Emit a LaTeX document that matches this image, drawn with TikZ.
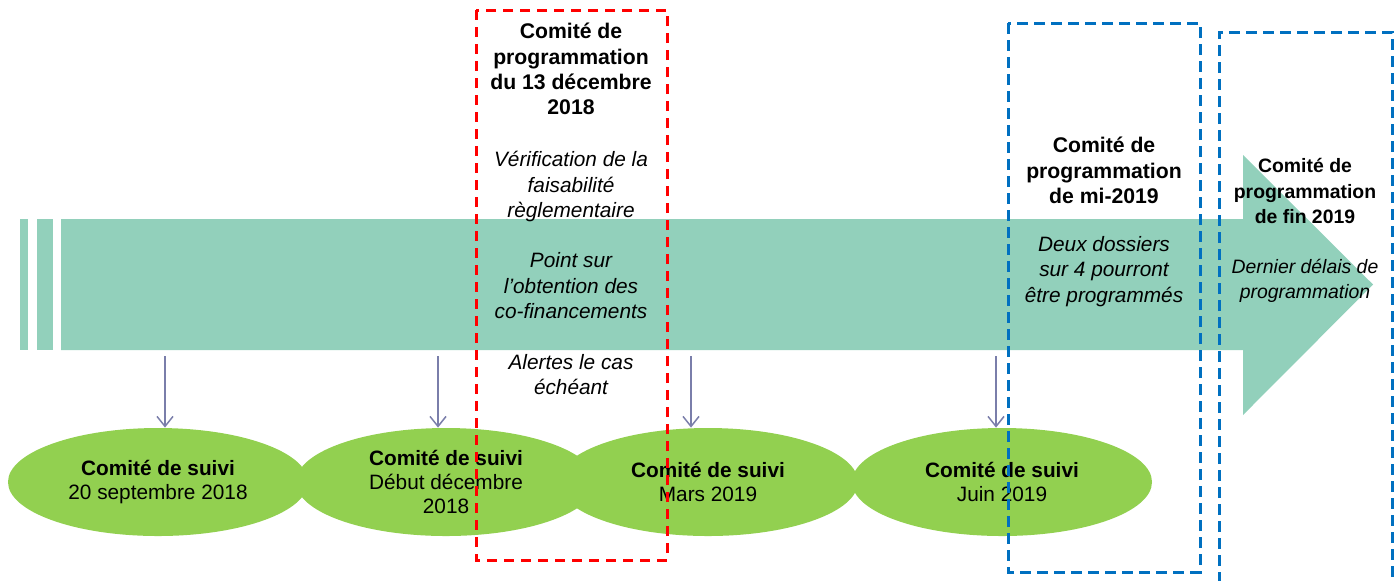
\documentclass[tikz,border=0pt]{standalone}
\usepackage{fontspec}
\setmainfont{Liberation Sans}
\usepackage{tikz}
\usetikzlibrary{shapes.geometric, arrows.meta, positioning}
\usepackage{xcolor}

\definecolor{timeline}{RGB}{146,208,187}
\definecolor{suivigreen}{RGB}{146,208,80}
\definecolor{redline}{RGB}{255,0,0}
\definecolor{blueline}{RGB}{0,112,192}
\definecolor{arrowgray}{RGB}{122,126,170}

\begin{document}
\begin{tikzpicture}[
      x=0.5pt, y=-0.5pt,
      every node/.style={font=\fontsize{10.8}{12.65}\selectfont},
      suivi/.style={ellipse, fill=suivigreen, minimum width=150pt, minimum height=54pt, inner sep=0pt, align=center, font=\fontsize{10.4}{12.2}\selectfont},
      title/.style={align=center, inner sep=0pt, font=\fontsize{10.6}{12.65}\selectfont\bfseries},
      note/.style={align=center, inner sep=0pt, font=\fontsize{10.4}{12.65}\selectfont\itshape},
      small/.style={font=\fontsize{9.7}{12.65}\selectfont#1},
      redbox/.style={draw=redline, line width=1.5pt, dash pattern=on 5pt off 3.5pt},
      bluebox/.style={draw=blueline, line width=1.5pt, dash pattern=on 5.5pt off 3pt},
      down/.style={draw=arrowgray, line width=0.75pt, -{Straight Barb[length=5pt, width=8pt]}}
    ]

    \useasboundingbox (0,0) rectangle (1400,580);

    % Timeline
    \fill[timeline] (20,219) rectangle (28,350);
    \fill[timeline] (37,219) rectangle (53,350);
    \fill[timeline] (61,219) -- (1243,219) -- (1243,155) -- (1373,284.5) -- (1243,415) -- (1243,350) -- (61,350) -- cycle;

    % Comites de suivi
    \node[suivi] (suivi1) at (158,482) {\textbf{Comité de suivi}\\20 septembre 2018};
    \node[suivi] (suivi2) at (446,482) {\textbf{Comité de suivi}\\Début décembre\\2018};
    \node[suivi] (suivi3) at (708,482) {\textbf{Comité de suivi}\\Mars 2019};
    \node[suivi] (suivi4) at (1002,482) {\textbf{Comité de suivi}\\Juin 2019};

    % Arrows
    \coordinate (a1) at (165,356);
    \coordinate (a2) at (438,356);
    \coordinate (a3) at (691,356);
    \coordinate (a4) at (996,356);
    \draw[down] (a1) -- (a1 |- suivi1.north);
    \draw[down] (a2) -- (a2 |- suivi2.north);
    \draw[down] (a3) -- (a3 |- suivi3.north);
    \draw[down] (a4) -- (a4 |- suivi4.north);

    % Comites de programmation
    \node[title] (prog1) at (571,69) {Comité de\\programmation\\du 13 décembre\\2018};
    \node[note] (prog1note) at (571,273) {Vérification de la\\faisabilité\\règlementaire\\[12.65pt]
      Point sur\\l’obtention des\\co-financements\\[12.65pt]
      Alertes le cas\\échéant};

    \node[title] (prog2) at (1104,170.5) {Comité de\\programmation\\de mi-2019};
    \node[note] (prog2note) at (1104,271.5) {Deux dossiers\\sur 4 pourront\\être programmés};

    \node[title, small=\bfseries] (prog3) at (1305,191) {Comité de\\programmation\\de fin 2019};
    \node[note, small=\itshape] (prog3note) at (1305,281) {Dernier délais de\\programmation};

    % Frames
    \draw[redbox] (476,10) rectangle (667,560);
    \draw[bluebox] (1008,23) rectangle (1200,572);
    \draw[bluebox] (1219,600) -- (1219,32) -- (1392,32) -- (1392,600);

  \end{tikzpicture}
\end{document}
